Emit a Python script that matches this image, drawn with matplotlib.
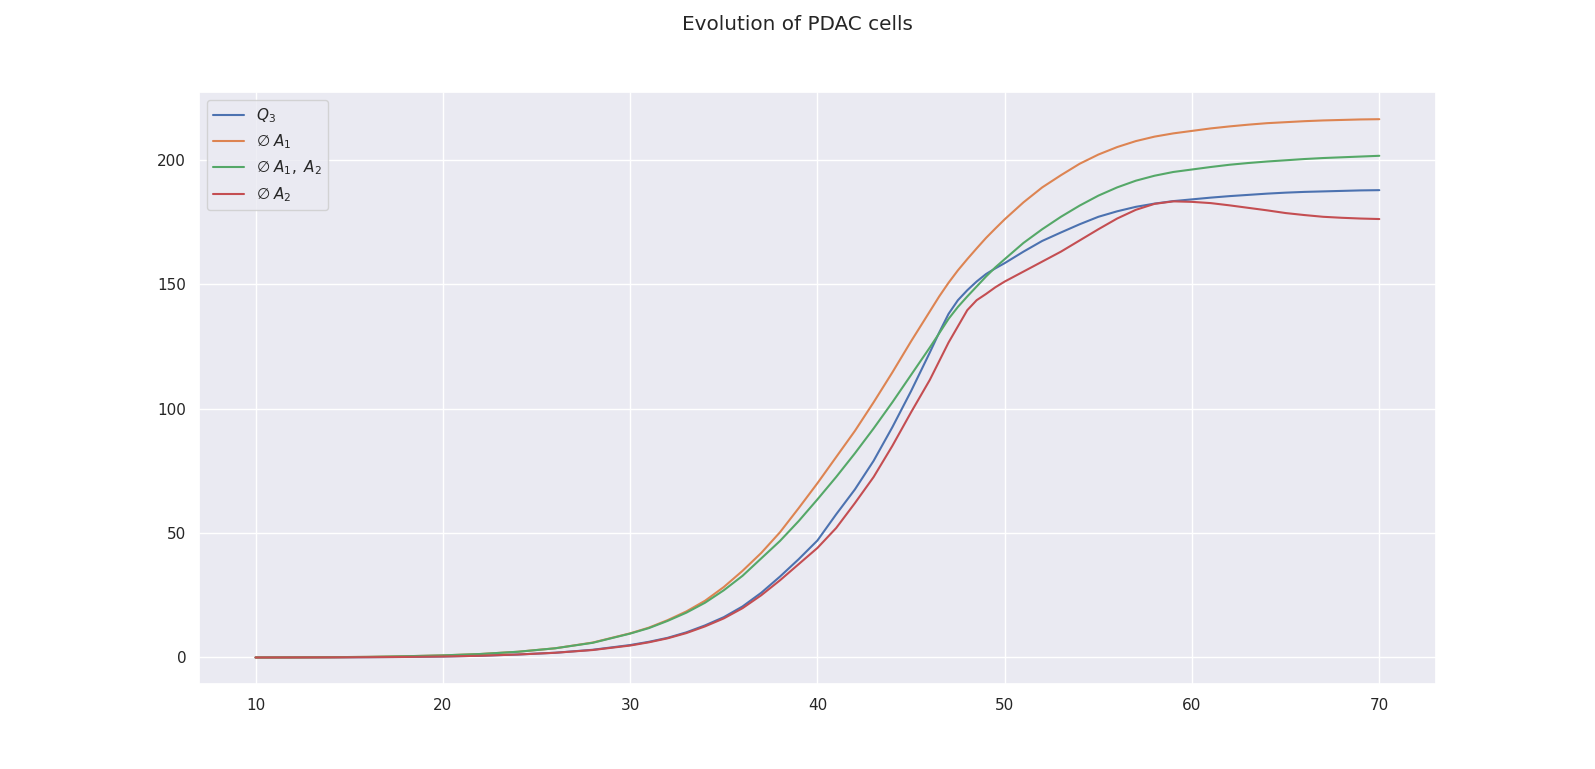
import matplotlib
matplotlib.use("Agg")
import matplotlib.pyplot as plt
import seaborn as sns

# time points
t = [10, 12, 14, 16, 18, 20, 22, 24, 26, 28, 30, 31, 32, 33, 34, 35, 36, 37, 38, 39,
     40, 41, 42, 43, 44, 45, 46, 46.5, 47, 47.5, 48, 48.5, 49, 49.5, 50, 51, 52, 53, 54, 55, 56, 57, 58, 59,
     60, 61, 62, 63, 64, 65, 66, 67, 68, 69, 70]

q3 = [0.0, 0.03, 0.06, 0.12, 0.22, 0.4, 0.7, 1.2, 1.9, 3.1, 5.0, 6.3, 7.9, 10.1, 12.9, 16.2, 20.5, 26.0, 32.5, 39.5,
      47.0, 57.5, 67.5, 79.0, 92.5, 107.0, 122.5, 130.5, 138.0, 143.5, 147.5, 151.0, 154.0, 156.3, 158.4,
      163.0, 167.3, 170.7, 174.0, 177.0, 179.2, 181.0, 182.3, 183.3,
      184.0, 184.7, 185.3, 185.8, 186.3, 186.7, 187.0, 187.2, 187.4, 187.6, 187.7]

no_a1 = [0.0, 0.05, 0.12, 0.25, 0.5, 0.85, 1.4, 2.3, 3.7, 6.0, 9.7, 12.0, 15.0, 18.5, 22.8, 28.3, 34.8, 42.0, 50.3, 60.0,
         70.0, 80.5, 91.0, 102.5, 114.5, 127.0, 139.0, 145.0, 150.5, 155.5, 160.0, 164.3, 168.5, 172.3, 176.0,
         182.8, 188.8, 193.7, 198.3, 202.0, 205.0, 207.4, 209.2, 210.5,
         211.5, 212.5, 213.3, 214.0, 214.6, 215.0, 215.4, 215.7, 215.9, 216.1, 216.2]

no_a1_a2 = [0.0, 0.05, 0.12, 0.25, 0.5, 0.85, 1.4, 2.3, 3.7, 5.9, 9.6, 11.8, 14.7, 18.0, 22.0, 27.0, 32.8, 39.8, 46.8, 54.8,
            63.5, 72.5, 82.0, 92.0, 102.5, 113.5, 124.5, 130.2, 136.0, 140.8, 145.0, 149.0, 153.0, 156.7, 160.0,
            166.5, 172.0, 177.0, 181.5, 185.5, 188.8, 191.5, 193.5, 195.0,
            196.0, 197.0, 197.9, 198.6, 199.2, 199.7, 200.2, 200.6, 200.9, 201.2, 201.5]

no_a2 = [0.0, 0.03, 0.06, 0.12, 0.22, 0.4, 0.7, 1.2, 1.9, 3.0, 4.8, 6.1, 7.7, 9.8, 12.5, 15.7, 19.8, 25.0, 31.0, 37.5,
         44.0, 52.0, 62.0, 72.5, 85.0, 98.5, 111.5, 119.0, 126.5, 133.0, 139.5, 143.5, 146.0, 148.7, 151.0,
         155.0, 159.0, 163.0, 167.5, 172.0, 176.3, 179.8, 182.2, 183.2,
         183.0, 182.5, 181.6, 180.6, 179.6, 178.5, 177.7, 177.0, 176.6, 176.3, 176.1]

labels = [r'$Q_3$', r'$\emptyset\; A_1$', r'$\emptyset\; A_1,\ A_2$', r'$\emptyset\; A_2$']
title = "Evolution of PDAC cells"

sns.set_theme()
fig, ax = plt.subplots(figsize=(15.95, 7.69), dpi=100)
for series, lab in zip([q3, no_a1, no_a1_a2, no_a2], labels):
    ax.plot(t, series, label=lab)
ax.legend(loc='upper left')
fig.suptitle(title)
fig.savefig("out.png", dpi=100)
